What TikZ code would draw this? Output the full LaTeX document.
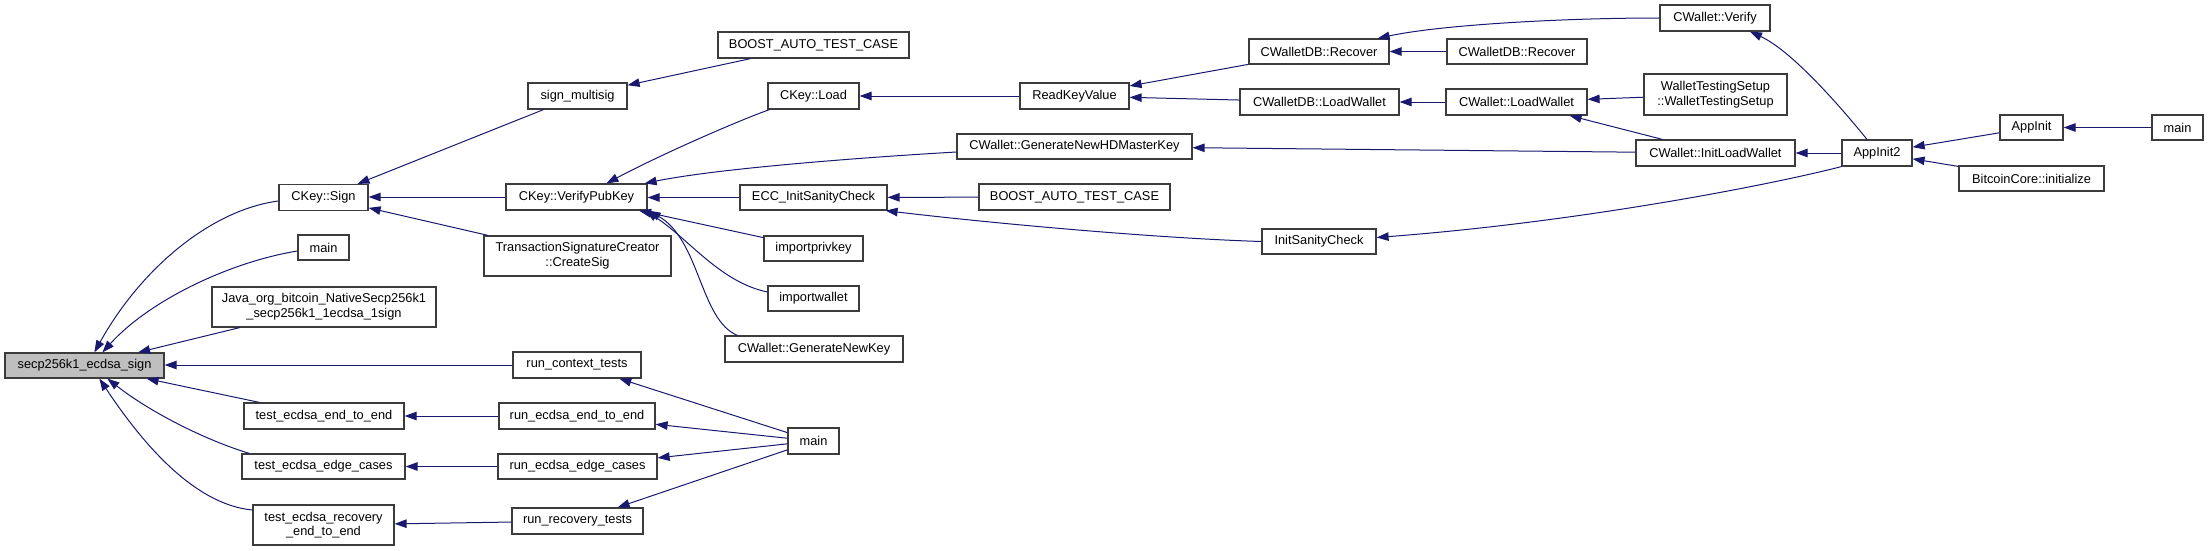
\documentclass[tikz,border=0pt]{standalone}
\usepackage{fontspec}
\setmainfont{Liberation Sans}
\usetikzlibrary{arrows.meta}
\definecolor{edgeblue}{RGB}{25,25,112}
\definecolor{boxline}{RGB}{60,60,60}
\definecolor{hilite}{RGB}{191,191,191}
\begin{document}
\begin{tikzpicture}[x=1pt,y=-1pt,
  box/.style={draw=boxline,line width=1.2pt,fill=white,inner sep=0pt,align=center,
    font=\fontsize{12.8}{14.7}\selectfont},
  cur/.style={box,fill=hilite},
  call/.style={draw=edgeblue,line width=1pt,-{Triangle[length=12pt,width=8.5pt]}}]
\useasboundingbox (0,0) rectangle (2208,551);
% column 1
\node[cur,minimum width=159,minimum height=25] (secp) at (84.5,365.5) {secp256k1\_ecdsa\_sign};
% column 2
\node[box,minimum width=89,minimum height=26] (ckeysign) at (323.5,197.5) {CKey::Sign};
\node[box,minimum width=51,minimum height=25] (mainl) at (323.5,247.5) {main};
\node[box,minimum width=224,minimum height=40] (java) at (324,307) {Java\_org\_bitcoin\_NativeSecp256k1\\\_secp256k1\_1ecdsa\_1sign};
\node[box,minimum width=160,minimum height=26] (tetoe) at (324,416) {test\_ecdsa\_end\_to\_end};
\node[box,minimum width=163,minimum height=25] (tedge) at (323.5,466.5) {test\_ecdsa\_edge\_cases};
\node[box,minimum width=141,minimum height=40] (trec) at (323.5,525) {test\_ecdsa\_recovery\\\_end\_to\_end};
% column 3
\node[box,minimum width=99,minimum height=26] (smulti) at (577.5,96) {sign\_multisig};
\node[box,minimum width=141,minimum height=26] (vpk) at (576.5,197) {CKey::VerifyPubKey};
\node[box,minimum width=187,minimum height=40] (tsc) at (577.5,256) {TransactionSignatureCreator\\::CreateSig};
\node[box,minimum width=128,minimum height=26] (rct) at (577,365) {run\_context\_tests};
\node[box,minimum width=156,minimum height=26] (retoe) at (577,416) {run\_ecdsa\_end\_to\_end};
\node[box,minimum width=159,minimum height=25] (redge) at (577.5,466.5) {run\_ecdsa\_edge\_cases};
\node[box,minimum width=131,minimum height=26] (rrec) at (577.5,521) {run\_recovery\_tests};
% column 4
\node[box,minimum width=191,minimum height=26] (boosta) at (813.5,45) {BOOST\_AUTO\_TEST\_CASE};
\node[box,minimum width=91,minimum height=26] (ckeyload) at (813.5,96) {CKey::Load};
\node[box,minimum width=147,minimum height=25] (ecc) at (813.5,197.5) {ECC\_InitSanityCheck};
\node[box,minimum width=99,minimum height=25] (imppriv) at (813.5,248.5) {importprivkey};
\node[box,minimum width=91,minimum height=25] (impwal) at (813.5,298.5) {importwallet};
\node[box,minimum width=178,minimum height=26] (gennew) at (814,349) {CWallet::GenerateNewKey};
\node[box,minimum width=51,minimum height=26] (mainm) at (813.5,441) {main};
% column 5
\node[box,minimum width=109,minimum height=26] (rkv) at (1074.5,96) {ReadKeyValue};
\node[box,minimum width=235,minimum height=25] (genhd) at (1074.5,146.5) {CWallet::GenerateNewHDMasterKey};
\node[box,minimum width=191,minimum height=26] (boostb) at (1074.5,197) {BOOST\_AUTO\_TEST\_CASE};
% column 6
\node[box,minimum width=140,minimum height=25] (recovera) at (1319,51.5) {CWalletDB::Recover};
\node[box,minimum width=159,minimum height=26] (dbload) at (1319.5,102) {CWalletDB::LoadWallet};
\node[box,minimum width=114,minimum height=25] (initsan) at (1319,241.5) {InitSanityCheck};
% column 7
\node[box,minimum width=140,minimum height=25] (recoverb) at (1517,51.5) {CWalletDB::Recover};
\node[box,minimum width=141,minimum height=26] (cwload) at (1516.5,102) {CWallet::LoadWallet};
% column 8
\node[box,minimum width=110,minimum height=26] (cwverify) at (1715,18) {CWallet::Verify};
\node[box,minimum width=143,minimum height=41] (wts) at (1715.5,94.5) {WalletTestingSetup\\::WalletTestingSetup};
\node[box,minimum width=159,minimum height=26] (initload) at (1715.5,153) {CWallet::InitLoadWallet};
% column 9
\node[box,minimum width=70,minimum height=26] (appinit2) at (1877,153) {AppInit2};
% column 10
\node[box,minimum width=63,minimum height=25] (appinit) at (2031.5,127.5) {AppInit};
\node[box,minimum width=145,minimum height=25] (bcinit) at (2031.5,178.5) {BitcoinCore::initialize};
% column 11
\node[box,minimum width=51,minimum height=25] (mainr) at (2177.5,127.5) {main};

% edges into secp256k1_ecdsa_sign
\draw[call] ([yshift=-3.5pt]ckeysign.west) .. controls (210,210) and (140,270) .. ([xshift=90pt]secp.north west);
\draw[call] ([yshift=-3.5pt]mainl.west) .. controls (230,262) and (150,300) .. ([xshift=98pt]secp.north west);
\draw[call] (java) -- (secp);
\draw[call] (rct.west) -- (secp.east |- rct.west);
\draw[call] (tetoe) -- (secp);
\draw[call] ([xshift=8pt]tedge.north west) .. controls (205,440) and (150,412) .. ([xshift=103pt]secp.south west);
\draw[call] ([yshift=15pt]trec.west) .. controls (200,505) and (150,455) .. ([xshift=95pt]secp.south west);
% column 2 callers
\draw[call] (smulti) -- (ckeysign);
\draw[call] (vpk.west) -- (ckeysign.east |- vpk.west);
\draw[call] (tsc) -- (ckeysign);
\draw[call] (retoe) -- (tetoe);
\draw[call] (redge) -- (tedge);
\draw[call] (rrec) -- (trec);
% column 3 callers
\draw[call] (boosta) -- (smulti);
\draw[call] ([xshift=2pt]ckeyload.south west) .. controls (735,122) and (660,155) .. ([xshift=101pt]vpk.north west);
\draw[call] ([yshift=-5.5pt]genhd.west) .. controls (870,157) and (720,168) .. ([xshift=-3pt]vpk.north east);
\draw[call] (ecc.west) -- (vpk.east |- ecc.west);
\draw[call] (imppriv) -- (vpk);
\draw[call] ([yshift=6.5pt]impwal.west) .. controls (720,282) and (690,240) .. ([xshift=-2pt]vpk.south east);
\draw[call] ([xshift=13pt]gennew.north west) .. controls (700,320) and (700,240) .. ([xshift=1pt]vpk.south east);
\draw[call] (mainm) -- (rct);
\draw[call] (mainm) -- (retoe);
\draw[call] (mainm) -- (redge);
\draw[call] (mainm) -- (rrec);
% column 4 callers
\draw[call] (rkv) -- (ckeyload);
\draw[call] (boostb) -- (ecc);
\draw[call] (initsan.west) .. controls (1150,238) and (980,222) .. ([xshift=-2pt]ecc.south east);
% column 5 callers
\draw[call] (recovera) -- (rkv);
\draw[call] (dbload) -- (rkv);
\draw[call] (initload) -- (genhd);
% column 6 callers
\draw[call] (recoverb) -- (recovera);
\draw[call] (cwload) -- (dbload);
\draw[call] (cwverify.west) .. controls (1560,18) and (1440,25) .. ([xshift=-12pt]recovera.north east);
% column 7 callers
\draw[call] (wts) -- (cwload);
\draw[call] (initload) -- (cwload);
% AppInit2 callers
\draw[call] ([xshift=-10pt]appinit2.north) .. controls (1835,100) and (1790,50) .. ([xshift=35pt]cwverify.south);
\draw[call] (appinit2) -- (initload);
\draw[call] (appinit2.south west) .. controls (1770,185) and (1580,222) .. ([yshift=4pt]initsan.east);
\draw[call] (appinit) -- (appinit2);
\draw[call] (bcinit) -- (appinit2);
\draw[call] (mainr) -- (appinit);
\end{tikzpicture}
\end{document}
